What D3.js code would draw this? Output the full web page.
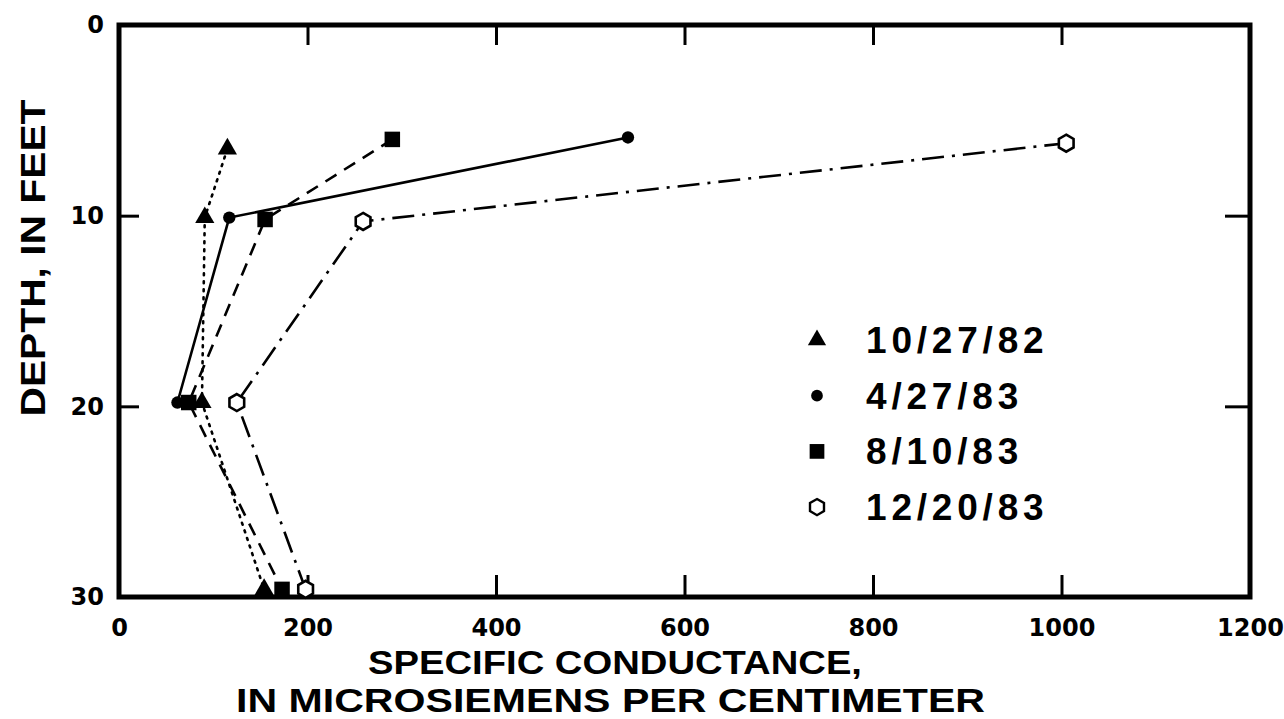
<!DOCTYPE html>
<html>

<head>
    <meta charset="utf-8">
    <title>Specific conductance vs depth</title>
    <script src="https://cdnjs.cloudflare.com/ajax/libs/d3/7.8.5/d3.min.js"></script>
    <style>
        body {
            margin: 0;
            background: #fff;
        }

        .tick text {
            font-family: "DejaVu Sans", sans-serif;
            font-weight: bold;
            fill: #000;
        }

        .tick line {
            stroke: #000;
            stroke-width: 3;
        }

        .legend text,
        .title {
            font-family: "Liberation Sans", Arial, sans-serif;
            font-weight: bold;
            fill: #000;
        }
    </style>
</head>

<body>
    <svg id="chart" width="1284" height="719"></svg>

    <script>
        // values (conductance in uS/cm, depth in feet)
        var dates = ["10/27/82", "4/27/83", "8/10/83", "12/20/83"];

        var cond_102782 = [115, 91, 88, 154];
        var depth_102782 = [6.5, 10.1, 19.8, 29.6];

        var cond_042783 = [540, 117, 62];
        var depth_042783 = [5.9, 10.1, 19.8];

        var cond_081083 = [290, 155, 74, 173];
        var depth_081083 = [6.0, 10.2, 19.8, 29.6];

        var cond_122083 = [1005, 259, 125, 198];
        var depth_122083 = [6.2, 10.3, 19.8, 29.6];

        var xTicks = [0, 200, 400, 600, 800, 1000, 1200];
        var yTicks = [0, 10, 20, 30];

        var svg = d3.select("#chart"),
            margin = { top: 25, right: 34, bottom: 122, left: 119 },
            width = +svg.attr("width") - margin.left - margin.right,
            height = +svg.attr("height") - margin.top - margin.bottom;

        var x = d3.scaleLinear().domain([0, 1200]).range([0, width]);
        var y = d3.scaleLinear().domain([0, 30]).range([0, height]);

        var g = svg.append("g")
            .attr("transform", "translate(" + margin.left + "," + margin.top + ")");

        function zip(c, dp) {
            return c.map(function(v, i) {
                return { x: v, depth: dp[i] };
            });
        }

        var series = [
            { name: dates[0], symbol: "triangle", dash: "2,6", cap: "round", values: zip(cond_102782, depth_102782) },
            { name: dates[1], symbol: "circle", dash: null, cap: "butt", values: zip(cond_042783, depth_042783) },
            { name: dates[2], symbol: "square", dash: "13,9", cap: "butt", values: zip(cond_081083, depth_081083) },
            { name: dates[3], symbol: "hexagon", dash: "22,8,3,8", cap: "butt", values: zip(cond_122083, depth_122083) }
        ];

        function noDomain(a) {
            a.select(".domain").remove();
            a.selectAll(".tick text").style("font-size", "24px");
        }

        // axes (ticks point inward)
        g.append("g")
            .attr("class", "axis")
            .attr("transform", "translate(0," + height + ")")
            .call(d3.axisBottom(x).tickValues(xTicks).tickFormat(d3.format("d"))
                .tickSize(-22).tickSizeOuter(0).tickPadding(22))
            .call(noDomain);

        g.append("g")
            .attr("class", "axis")
            .call(d3.axisTop(x).tickValues(xTicks.slice(1, -1)).tickSize(-20).tickFormat(""))
            .call(noDomain);

        g.append("g")
            .attr("class", "axis")
            .call(d3.axisLeft(y).tickValues(yTicks).tickSize(-20).tickSizeOuter(0).tickPadding(15))
            .call(noDomain);

        g.append("g")
            .attr("class", "axis")
            .attr("transform", "translate(" + width + ",0)")
            .call(d3.axisRight(y).tickValues(yTicks.slice(1, -1)).tickSize(-25).tickFormat(""))
            .call(noDomain);

        g.append("rect")
            .attr("width", width)
            .attr("height", height)
            .attr("fill", "none")
            .attr("stroke", "#000")
            .attr("stroke-width", 5);

        var line = d3.line()
            .x(function(d) { return x(d.x); })
            .y(function(d) { return y(d.depth); });

        g.selectAll(".series")
            .data(series)
            .enter().append("path")
            .attr("class", "series")
            .attr("d", function(d) { return line(d.values); })
            .attr("fill", "none")
            .attr("stroke", "#000")
            .attr("stroke-width", 2.6)
            .attr("stroke-linecap", function(d) { return d.cap; })
            .attr("stroke-dasharray", function(d) { return d.dash; });

        function hexagon(r) {
            var pts = d3.range(6).map(function(i) {
                var a = Math.PI / 3 * i - Math.PI / 2;
                return [r * Math.cos(a), r * Math.sin(a)];
            });
            return "M" + pts.join("L") + "Z";
        }

        function marker(sym, scale) {
            if (sym == "hexagon") return hexagon(8.5 * scale);
            var size = { triangle: 160, circle: 120, square: 240 }[sym] * scale * scale;
            var type = { triangle: d3.symbolTriangle, circle: d3.symbolCircle, square: d3.symbolSquare }[sym];
            return d3.symbol().type(type).size(size)();
        }

        series.forEach(function(s) {
            g.selectAll(null)
                .data(s.values)
                .enter().append("path")
                .attr("transform", function(d) {
                    return "translate(" + x(d.x) + "," + y(d.depth) + ")";
                })
                .attr("d", marker(s.symbol, 1))
                .attr("fill", s.symbol == "hexagon" ? "#fff" : "#000")
                .attr("stroke", "#000")
                .attr("stroke-width", s.symbol == "hexagon" ? 2.6 : 0);
        });

        // legend
        var legend = svg.append("g")
            .attr("class", "legend")
            .attr("transform", "translate(817,340)");

        var row = legend.selectAll("g")
            .data(series)
            .enter().append("g")
            .attr("transform", function(d, i) {
                return "translate(0," + (i * 55.7) + ")";
            });

        row.append("path")
            .attr("d", function(d) { return marker(d.symbol, 0.95); })
            .attr("fill", function(d) { return d.symbol == "hexagon" ? "#fff" : "#000"; })
            .attr("stroke", "#000")
            .attr("stroke-width", function(d) { return d.symbol == "hexagon" ? 2.4 : 0; });

        row.append("text")
            .attr("x", 49)
            .attr("y", 13)
            .style("font-size", "37px")
            .style("letter-spacing", "4.8px")
            .text(function(d) { return d.name; });

        // axis titles
        svg.append("text")
            .attr("class", "title")
            .attr("transform", "translate(45,258) rotate(-90)")
            .attr("text-anchor", "middle")
            .attr("textLength", 317)
            .attr("lengthAdjust", "spacingAndGlyphs")
            .style("font-size", "35px")
            .text("DEPTH, IN FEET");

        svg.append("text")
            .attr("class", "title")
            .attr("x", 368)
            .attr("y", 674)
            .attr("textLength", 494)
            .attr("lengthAdjust", "spacingAndGlyphs")
            .style("font-size", "33px")
            .text("SPECIFIC CONDUCTANCE,");

        svg.append("text")
            .attr("class", "title")
            .attr("x", 236)
            .attr("y", 712)
            .attr("textLength", 749)
            .attr("lengthAdjust", "spacingAndGlyphs")
            .style("font-size", "33px")
            .text("IN MICROSIEMENS PER CENTIMETER");
    </script>
</body>

</html>
